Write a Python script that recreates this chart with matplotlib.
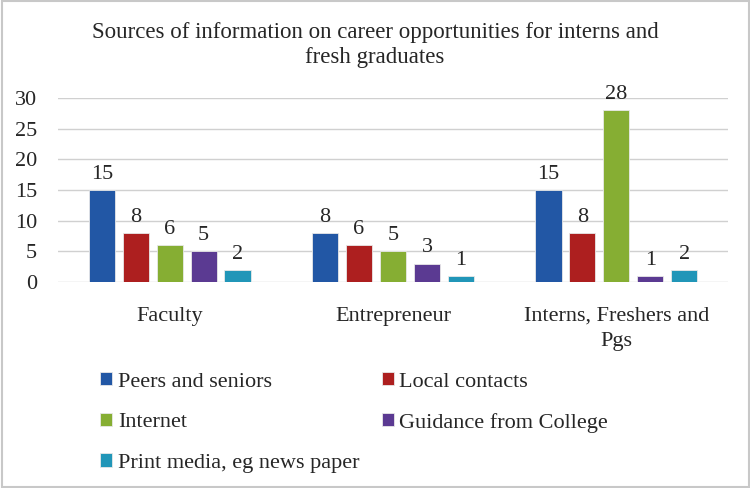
import matplotlib
matplotlib.use("Agg")
import matplotlib.pyplot as plt
import numpy as np
from matplotlib.patches import Rectangle

categories = ["Faculty", "Entrepreneur", "Interns, Freshers and\nPgs"]
series_names = ["Peers and seniors", "Local contacts", "Internet",
                "Guidance from College", "Print media, eg news paper"]
values = {
    "Peers and seniors": [15, 8, 15],
    "Local contacts": [8, 6, 8],
    "Internet": [6, 5, 28],
    "Guidance from College": [5, 3, 1],
    "Print media, eg news paper": [2, 1, 2],
}
colors = ["#2257A5", "#AD1F1F", "#86AE33", "#5B3A92", "#2196B8"]
yticks = [0, 5, 10, 15, 20, 25, 30]
title = "Sources of information on career opportunities for interns and\nfresh graduates"

plt.rcParams['font.family'] = ['Liberation Serif', 'DejaVu Serif']
TXT = "#262626"
FS = 16

fig = plt.figure(figsize=(7.5, 4.88), dpi=100)
ax = fig.add_axes([58/750, 1-282/488, 670/750, 184/488])

x = np.arange(len(categories))
step = 0.152
width = 0.117
handles = []
for j, name in enumerate(series_names):
    pos = x + (j - 2) * step
    bars = ax.bar(pos, values[name], width=width, color=colors[j],
                  edgecolor="#e8e8e8", linewidth=0.6, label=name, zorder=3)
    handles.append(bars)
    for p, v in zip(pos, values[name]):
        ax.text(p, v + 1.0, str(v), ha="center", va="bottom",
                fontsize=FS, color=TXT, zorder=4)

ax.set_xlim(-0.5, 2.5)
ax.set_ylim(0, 30)
ax.set_yticks(yticks)
ax.set_yticklabels([str(t) for t in yticks], fontsize=FS, color=TXT)
ax.set_xticks(x)
ax.set_xticklabels(categories, fontsize=FS, color=TXT, linespacing=1.45)
ax.tick_params(axis="y", length=0, pad=15)
ax.tick_params(axis="x", length=0, pad=18)
ax.yaxis.grid(True, color="#d0d0d0", linewidth=1.0, zorder=0)
for s in ax.spines.values():
    s.set_visible(False)

fig.text(0.5, 1-45/488, title, ha="center", va="center", fontsize=16.5,
         color=TXT, linespacing=1.3)

order = [0, 2, 4, 1, 3]
leg = fig.legend([handles[i] for i in order], [series_names[i] for i in order],
                 loc="upper left", bbox_to_anchor=(100/750, 1-372/488), ncol=2,
                 frameon=False, prop=dict(family="Liberation Serif", size=FS),
                 handlelength=0.55, handleheight=0.55,
                 handletextpad=0.25, columnspacing=1.0, labelspacing=0.95,
                 borderaxespad=0, borderpad=0)
for t in leg.get_texts():
    t.set_color(TXT)

fig.patches.append(Rectangle((0.002, 0.003), 0.996, 0.994, transform=fig.transFigure,
                             fill=False, edgecolor="#c8c8c8", linewidth=1.5))

fig.savefig("out.png", dpi=100)
